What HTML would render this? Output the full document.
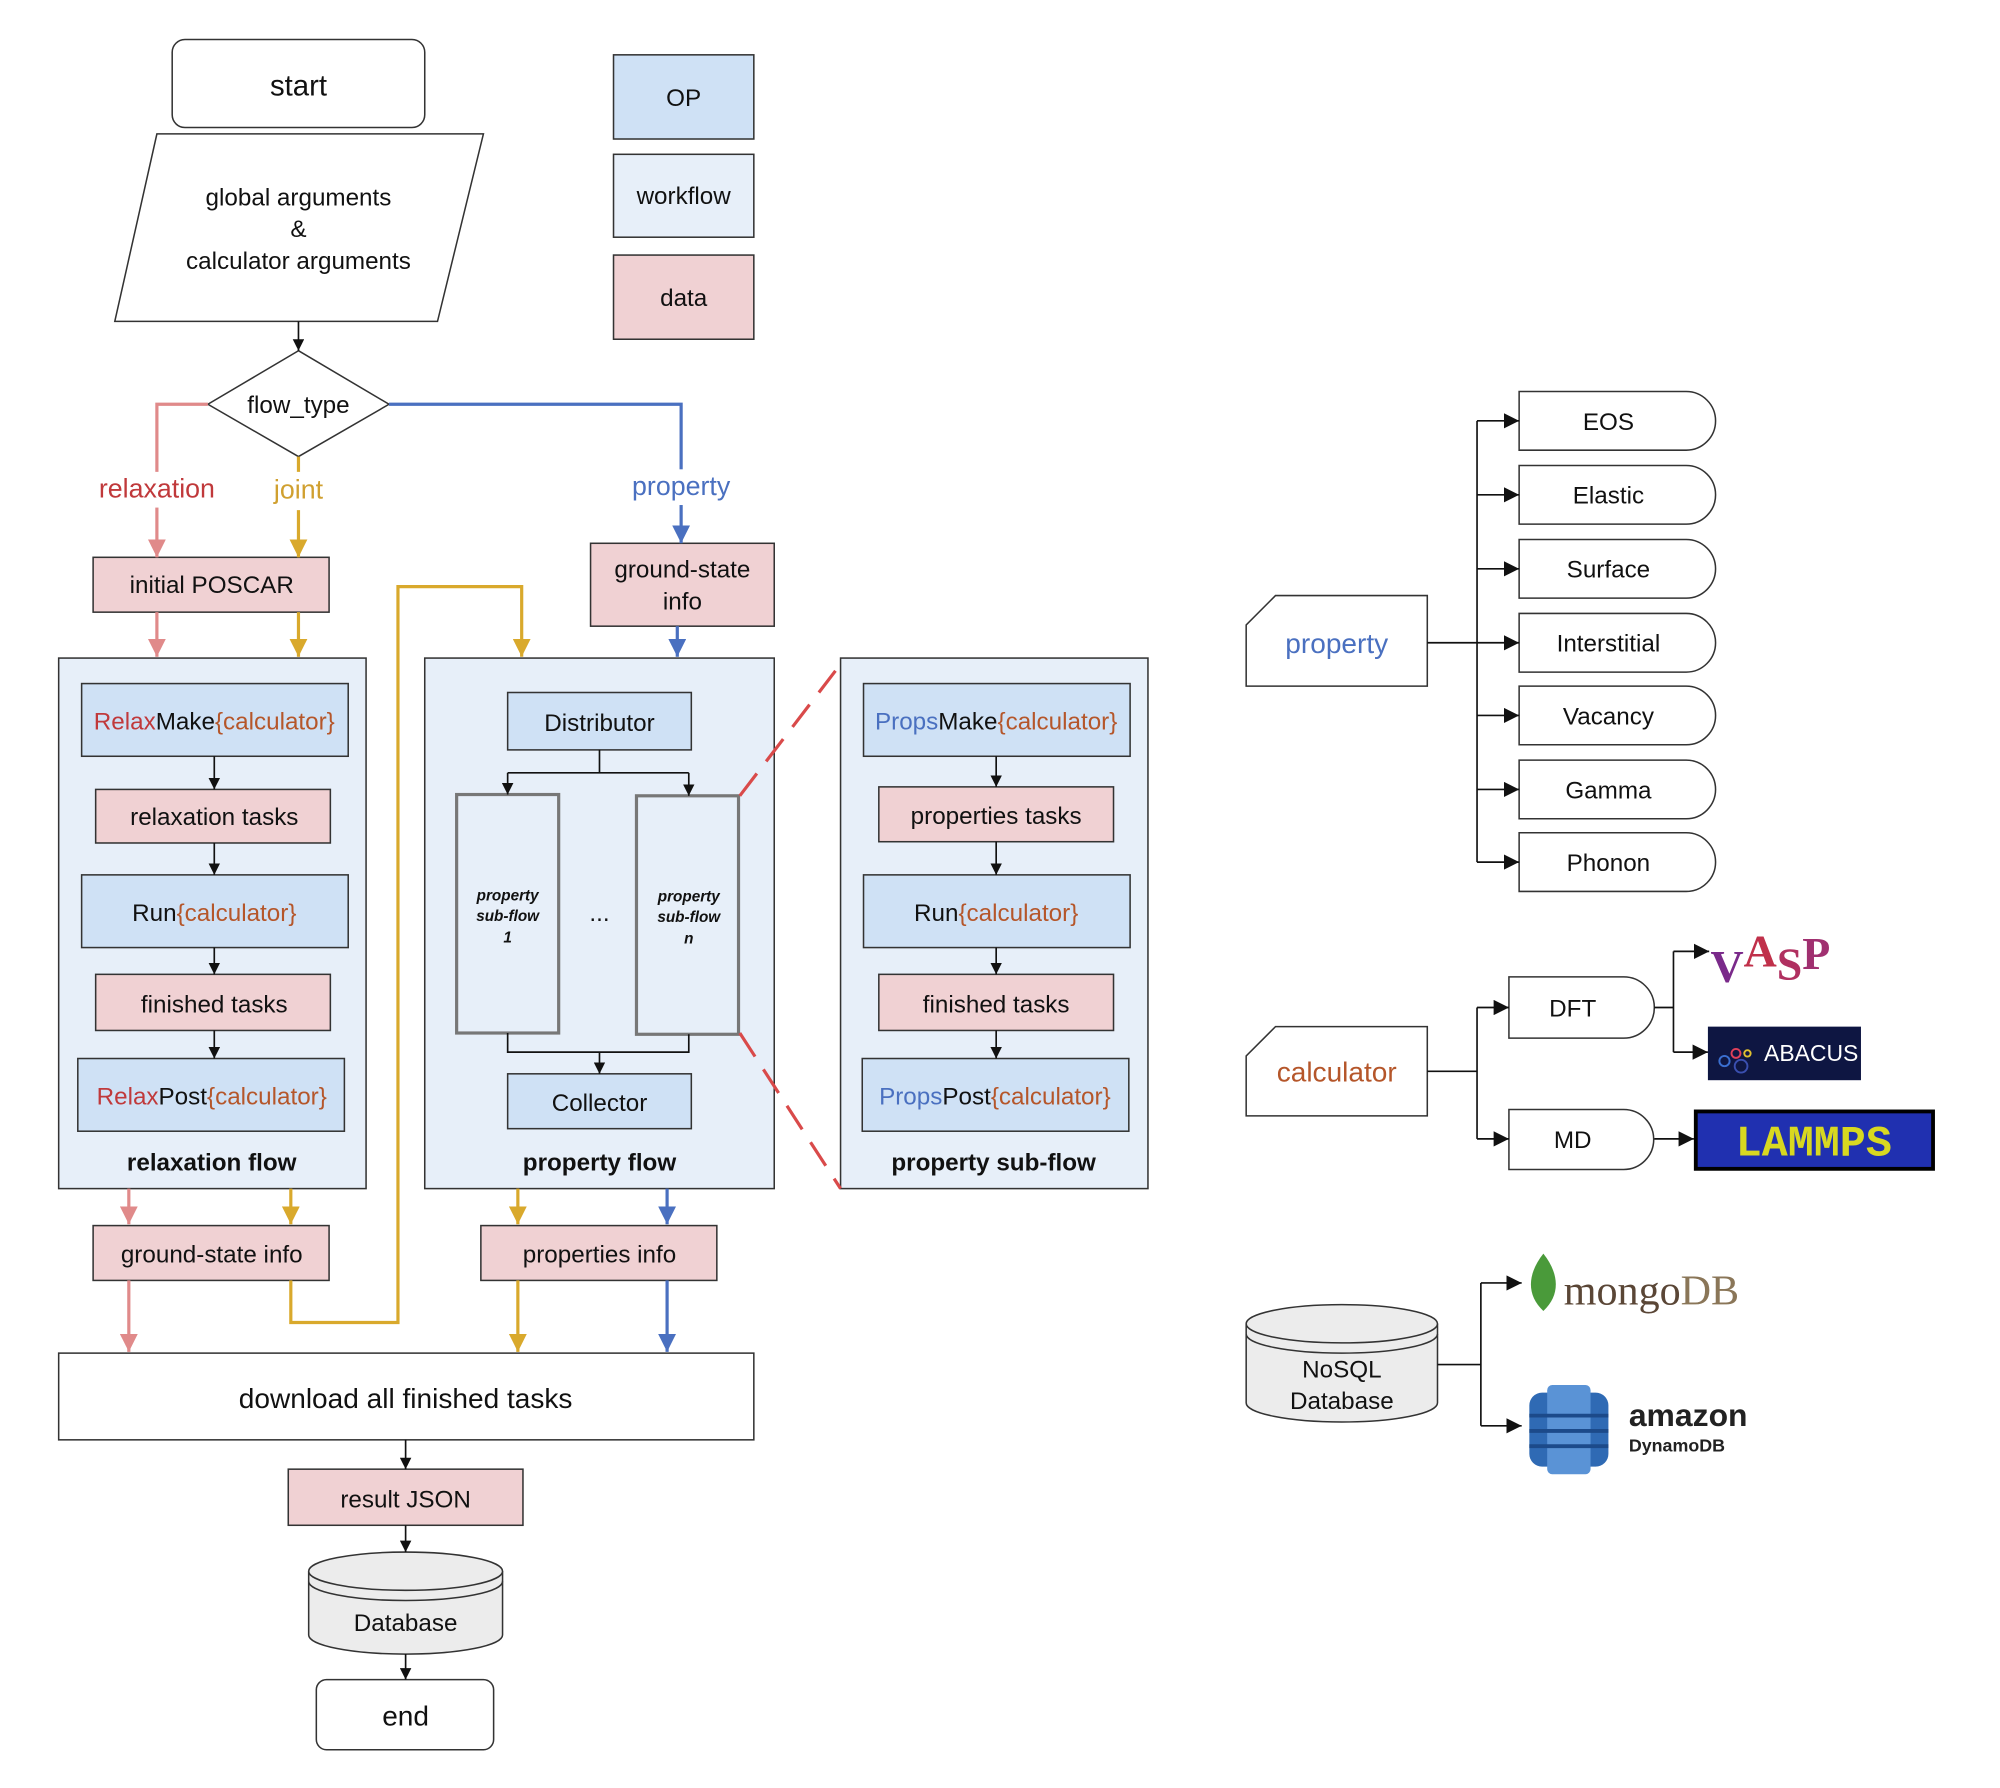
<!DOCTYPE html>
<html><head><meta charset="utf-8"><style>
html,body{margin:0;padding:0;background:#fff;}
svg{display:block;}
text{font-family:"Liberation Sans","Noto Sans CJK SC",sans-serif;}
</style></head><body>
<svg width="2000" height="1788" viewBox="0 0 1568 1402" preserveAspectRatio="none" xmlns="http://www.w3.org/2000/svg">
<defs>
<marker id="ak" viewBox="0 0 10 10" refX="10" refY="5" markerWidth="9" markerHeight="9" markerUnits="userSpaceOnUse" orient="auto"><path d="M0,0L10,5L0,10z" fill="#111"/></marker>
<marker id="ap" viewBox="0 0 10 10" refX="10" refY="5" markerWidth="14" markerHeight="14" markerUnits="userSpaceOnUse" orient="auto"><path d="M0,0L10,5L0,10z" fill="#e08a8a"/></marker>
<marker id="ag" viewBox="0 0 10 10" refX="10" refY="5" markerWidth="14" markerHeight="14" markerUnits="userSpaceOnUse" orient="auto"><path d="M0,0L10,5L0,10z" fill="#d9a92c"/></marker>
<marker id="ab" viewBox="0 0 10 10" refX="10" refY="5" markerWidth="14" markerHeight="14" markerUnits="userSpaceOnUse" orient="auto"><path d="M0,0L10,5L0,10z" fill="#4a70c0"/></marker>
<marker id="ak2" viewBox="0 0 10 10" refX="10" refY="5" markerWidth="12" markerHeight="12" markerUnits="userSpaceOnUse" orient="auto"><path d="M0,0L10,5L0,10z" fill="#111"/></marker>
</defs>
<g stroke="#333" stroke-width="1.2">
<rect x="135" y="31" width="198" height="69" rx="10" fill="#fff"/>
<polygon points="123,105 379,105 343,252 90,252" fill="#fff"/>
<polygon points="234,275 305,317 234,358 163,317" fill="#fff"/>
<rect x="481" y="43" width="110" height="66" fill="#cfe1f5"/>
<rect x="481" y="121" width="110" height="65" fill="#e7eff9"/>
<rect x="481" y="200" width="110" height="66" fill="#f0d1d3"/>
<rect x="46" y="516" width="241" height="416" fill="#e7eff9"/>
<rect x="333" y="516" width="274" height="416" fill="#e7eff9"/>
<rect x="659" y="516" width="241" height="416" fill="#e7eff9"/>
<rect x="73" y="437" width="185" height="43" fill="#f0d1d3"/>
<rect x="463" y="426" width="144" height="65" fill="#f0d1d3"/>
<rect x="75" y="619" width="184" height="42" fill="#f0d1d3"/>
<rect x="75" y="764" width="184" height="44" fill="#f0d1d3"/>
<rect x="689" y="617" width="184" height="43" fill="#f0d1d3"/>
<rect x="689" y="764" width="184" height="44" fill="#f0d1d3"/>
<rect x="73" y="961" width="185" height="43" fill="#f0d1d3"/>
<rect x="377" y="961" width="185" height="43" fill="#f0d1d3"/>
<rect x="226" y="1152" width="184" height="44" fill="#f0d1d3"/>
<rect x="64" y="536" width="209" height="57" fill="#cfe1f5"/>
<rect x="64" y="686" width="209" height="57" fill="#cfe1f5"/>
<rect x="61" y="830" width="209" height="57" fill="#cfe1f5"/>
<rect x="398" y="543" width="144" height="45" fill="#cfe1f5"/>
<rect x="398" y="842" width="144" height="43" fill="#cfe1f5"/>
<rect x="677" y="536" width="209" height="57" fill="#cfe1f5"/>
<rect x="677" y="686" width="209" height="57" fill="#cfe1f5"/>
<rect x="676" y="830" width="209" height="57" fill="#cfe1f5"/>
<rect x="358" y="623" width="80" height="187" fill="#e7eff9" stroke="#777" stroke-width="2.5"/>
<rect x="499" y="624" width="80" height="187" fill="#e7eff9" stroke="#777" stroke-width="2.5"/>
<rect x="46" y="1061" width="545" height="68" fill="#fff"/>
<rect x="248" y="1317" width="139" height="55" rx="8" fill="#fff"/>
<path d="M242,1232 L242,1282 A76,15 0 0 0 394,1282 L394,1232" fill="#ececec"/>
<ellipse cx="318" cy="1232" rx="76" ry="15" fill="#ececec"/>
<path d="M242,1240 A76,15 0 0 0 394,1240" fill="none"/>
<path d="M977,1038 L977,1100 A75,15 0 0 0 1127,1100 L1127,1038" fill="#ececec"/>
<ellipse cx="1052" cy="1038" rx="75" ry="15" fill="#ececec"/>
<path d="M977,1046 A75,15 0 0 0 1127,1046" fill="none"/>
<polygon points="1000,467 1119,467 1119,538 977,538 977,490" fill="#fff"/>
<polygon points="1000,805 1119,805 1119,875 977,875 977,828" fill="#fff"/>
</g>
<g stroke="#333" stroke-width="1.2" fill="#fff">
<path d="M1191,307 h131 a23,23 0 0 1 0,46 h-131z"/>
<path d="M1191,365 h131 a23,23 0 0 1 0,46 h-131z"/>
<path d="M1191,423 h131 a23,23 0 0 1 0,46 h-131z"/>
<path d="M1191,481 h131 a23,23 0 0 1 0,46 h-131z"/>
<path d="M1191,538 h131 a23,23 0 0 1 0,46 h-131z"/>
<path d="M1191,596 h131 a23,23 0 0 1 0,46 h-131z"/>
<path d="M1191,653 h131 a23,23 0 0 1 0,46 h-131z"/>
<path d="M1183,766 h90 a24,24 0 0 1 0,48 h-90z"/>
<path d="M1183,870 h90 a23.5,23.5 0 0 1 0,47 h-90z"/>
</g>
<g stroke="#111" stroke-width="1.3" fill="none">
<line x1="234" y1="252" x2="234" y2="275" marker-end="url(#ak)"/>
<line x1="168" y1="593" x2="168" y2="619" marker-end="url(#ak)"/>
<line x1="168" y1="661" x2="168" y2="686" marker-end="url(#ak)"/>
<line x1="168" y1="743" x2="168" y2="764" marker-end="url(#ak)"/>
<line x1="168" y1="808" x2="168" y2="830" marker-end="url(#ak)"/>
<line x1="781" y1="593" x2="781" y2="617" marker-end="url(#ak)"/>
<line x1="781" y1="660" x2="781" y2="686" marker-end="url(#ak)"/>
<line x1="781" y1="743" x2="781" y2="764" marker-end="url(#ak)"/>
<line x1="781" y1="808" x2="781" y2="830" marker-end="url(#ak)"/>
<polyline points="470,588 470,606"/>
<polyline points="398,606 540,606"/>
<line x1="398" y1="606" x2="398" y2="623" marker-end="url(#ak)"/>
<line x1="540" y1="606" x2="540" y2="624" marker-end="url(#ak)"/>
<polyline points="398,810 398,825 540,825 540,811"/>
<line x1="470" y1="825" x2="470" y2="842" marker-end="url(#ak)"/>
<line x1="318" y1="1129" x2="318" y2="1152" marker-end="url(#ak)"/>
<line x1="318" y1="1196" x2="318" y2="1217" marker-end="url(#ak)"/>
<line x1="318" y1="1297" x2="318" y2="1317" marker-end="url(#ak)"/>
<polyline points="1119,504 1158,504"/>
<polyline points="1158,330 1158,676"/>
<line x1="1158" y1="330" x2="1191" y2="330" marker-end="url(#ak2)"/>
<line x1="1158" y1="388" x2="1191" y2="388" marker-end="url(#ak2)"/>
<line x1="1158" y1="446" x2="1191" y2="446" marker-end="url(#ak2)"/>
<line x1="1158" y1="504" x2="1191" y2="504" marker-end="url(#ak2)"/>
<line x1="1158" y1="561" x2="1191" y2="561" marker-end="url(#ak2)"/>
<line x1="1158" y1="619" x2="1191" y2="619" marker-end="url(#ak2)"/>
<line x1="1158" y1="676" x2="1191" y2="676" marker-end="url(#ak2)"/>
<polyline points="1119,840 1158,840"/>
<polyline points="1158,790 1158,893"/>
<line x1="1158" y1="790" x2="1183" y2="790" marker-end="url(#ak2)"/>
<line x1="1158" y1="893" x2="1183" y2="893" marker-end="url(#ak2)"/>
<polyline points="1297,790 1312,790"/>
<polyline points="1312,746 1312,825"/>
<line x1="1312" y1="746" x2="1340" y2="746" marker-end="url(#ak2)"/>
<line x1="1312" y1="825" x2="1339" y2="825" marker-end="url(#ak2)"/>
<line x1="1297" y1="893" x2="1328" y2="893" marker-end="url(#ak2)"/>
<polyline points="1127,1070 1161,1070"/>
<polyline points="1161,1006 1161,1118"/>
<line x1="1161" y1="1006" x2="1193" y2="1006" marker-end="url(#ak2)"/>
<line x1="1161" y1="1118" x2="1193" y2="1118" marker-end="url(#ak2)"/>
</g>
<g fill="none" stroke-width="2.5">
<polyline points="163,317 123,317 123,437" stroke="#e08a8a" marker-end="url(#ap)"/>
<line x1="123" y1="480" x2="123" y2="515" stroke="#e08a8a" marker-end="url(#ap)"/>
<line x1="101" y1="932" x2="101" y2="960" stroke="#e08a8a" marker-end="url(#ap)"/>
<line x1="101" y1="1004" x2="101" y2="1060" stroke="#e08a8a" marker-end="url(#ap)"/>
<line x1="234" y1="358" x2="234" y2="437" stroke="#d9a92c" marker-end="url(#ag)"/>
<line x1="234" y1="480" x2="234" y2="515" stroke="#d9a92c" marker-end="url(#ag)"/>
<line x1="228" y1="932" x2="228" y2="960" stroke="#d9a92c" marker-end="url(#ag)"/>
<polyline points="228,1004 228,1037 312,1037 312,460 409,460 409,515" stroke="#d9a92c" marker-end="url(#ag)"/>
<line x1="406" y1="932" x2="406" y2="960" stroke="#d9a92c" marker-end="url(#ag)"/>
<line x1="406" y1="1004" x2="406" y2="1060" stroke="#d9a92c" marker-end="url(#ag)"/>
<polyline points="305,317 534,317 534,426" stroke="#4a70c0" marker-end="url(#ab)"/>
<line x1="531" y1="491" x2="531" y2="515" stroke="#4a70c0" marker-end="url(#ab)"/>
<line x1="523" y1="932" x2="523" y2="960" stroke="#4a70c0" marker-end="url(#ab)"/>
<line x1="523" y1="1004" x2="523" y2="1060" stroke="#4a70c0" marker-end="url(#ab)"/>
<line x1="580" y1="624" x2="655" y2="526" stroke="#d94a4a" stroke-dasharray="22,12"/>
<line x1="580" y1="810" x2="659" y2="932" stroke="#d94a4a" stroke-dasharray="22,12"/>
</g>
<rect x="70" y="370" width="106" height="28" fill="#fff"/>
<rect x="208" y="370" width="52" height="30" fill="#fff"/>
<rect x="488" y="368" width="92" height="28" fill="#fff"/>
<g font-size="19" fill="#111" text-anchor="middle">
<text x="234" y="75" font-size="23">start</text>
<text x="234" y="161">global arguments</text>
<text x="234" y="186">&amp;</text>
<text x="234" y="211">calculator arguments</text>
<text x="234" y="324">flow_type</text>
<text x="536" y="83">OP</text>
<text x="536" y="160">workflow</text>
<text x="536" y="240">data</text>
<text x="123" y="390" font-size="21" fill="#c0393b">relaxation</text>
<text x="234" y="391" font-size="21" fill="#d0a030">joint</text>
<text x="534" y="388" font-size="21" fill="#4a70c0">property</text>
<text x="166" y="465">initial POSCAR</text>
<text x="535" y="453">ground-state</text>
<text x="535" y="478">info</text>
<text x="168" y="572"><tspan fill="#c0393b">Relax</tspan>Make<tspan fill="#b5562a">{calculator}</tspan></text>
<text x="168" y="647">relaxation tasks</text>
<text x="168" y="722">Run<tspan fill="#b5562a">{calculator}</tspan></text>
<text x="168" y="794">finished tasks</text>
<text x="166" y="866"><tspan fill="#c0393b">Relax</tspan>Post<tspan fill="#b5562a">{calculator}</tspan></text>
<text x="166" y="918" font-weight="bold">relaxation flow</text>
<text x="470" y="573">Distributor</text>
<text x="470" y="871">Collector</text>
<text x="470" y="918" font-weight="bold">property flow</text>
<text x="470" y="722">...</text>
<g font-size="12" font-style="italic" font-weight="bold">
<text x="398" y="706">property</text><text x="398" y="722">sub-flow</text><text x="398" y="739">1</text>
<text x="540" y="707">property</text><text x="540" y="723">sub-flow</text><text x="540" y="740">n</text>
</g>
<text x="781" y="572"><tspan fill="#4a70c0">Props</tspan>Make<tspan fill="#b5562a">{calculator}</tspan></text>
<text x="781" y="646">properties tasks</text>
<text x="781" y="722">Run<tspan fill="#b5562a">{calculator}</tspan></text>
<text x="781" y="794">finished tasks</text>
<text x="780" y="866"><tspan fill="#4a70c0">Props</tspan>Post<tspan fill="#b5562a">{calculator}</tspan></text>
<text x="779" y="918" font-weight="bold">property sub-flow</text>
<text x="166" y="990">ground-state info</text>
<text x="470" y="990">properties info</text>
<text x="318" y="1104" font-size="22">download all finished tasks</text>
<text x="318" y="1182">result JSON</text>
<text x="318" y="1279">Database</text>
<text x="318" y="1353" font-size="22">end</text>
<text x="1048" y="512" font-size="22" fill="#4a70c0">property</text>
<text x="1048" y="848" font-size="22" fill="#b5562a">calculator</text>
<text x="1261" y="337">EOS</text>
<text x="1261" y="395">Elastic</text>
<text x="1261" y="453">Surface</text>
<text x="1261" y="511">Interstitial</text>
<text x="1261" y="568">Vacancy</text>
<text x="1261" y="626">Gamma</text>
<text x="1261" y="683">Phonon</text>
<text x="1233" y="797">DFT</text>
<text x="1233" y="900">MD</text>
<text x="1052" y="1080">NoSQL</text>
<text x="1052" y="1105">Database</text>
</g>
<text x="1341" y="770" style="font-family:'Liberation Serif',serif;font-size:36px;font-weight:bold" fill="#7a2a8a">V<tspan fill="#c0304a" dy="-12">A</tspan><tspan fill="#b03060" dy="10">S</tspan><tspan fill="#a03070" dy="-8">P</tspan></text>
<rect x="1339" y="805" width="120" height="42" fill="#0e1642"/>
<circle cx="1352" cy="832" r="4" fill="none" stroke="#3a6fd0" stroke-width="1.5"/>
<circle cx="1361" cy="826" r="3.5" fill="none" stroke="#e0405a" stroke-width="1.5"/>
<circle cx="1370" cy="826" r="2.5" fill="none" stroke="#e0c030" stroke-width="1.5"/>
<circle cx="1365" cy="836" r="5" fill="none" stroke="#3a4fb0" stroke-width="1.5"/>
<text x="1383" y="832" font-size="18" fill="#fff">ABACUS</text>
<rect x="1328" y="870" width="189" height="48" fill="#000"/>
<rect x="1331" y="873" width="183" height="42" fill="#2030b0"/>
<text x="1422" y="906" text-anchor="middle" style="font-family:'Liberation Mono',monospace;font-size:34px;font-weight:bold" fill="#d8d820">LAMMPS</text>
<path d="M1210,983 C1222,998 1224,1015 1210,1028 C1196,1015 1198,998 1210,983z" fill="#4a9a3a"/>
<text x="1226" y="1023" style="font-family:'Liberation Serif',serif;font-size:33px" fill="#5a4636">mongo<tspan fill="#8a7658">DB</tspan></text>
<rect x="1199" y="1092" width="62" height="58" rx="10" fill="#2f6ab4"/>
<rect x="1213" y="1086" width="34" height="70" rx="4" fill="#5a93d6"/>
<g stroke="#1c4a8a" stroke-width="3"><line x1="1199" y1="1110" x2="1261" y2="1110"/><line x1="1199" y1="1122" x2="1261" y2="1122"/><line x1="1199" y1="1134" x2="1261" y2="1134"/></g>
<text x="1277" y="1118" font-size="25" font-weight="bold" fill="#222">amazon</text>
<text x="1277" y="1138" font-size="14" font-weight="bold" fill="#222">DynamoDB</text>
</svg>
</body></html>
